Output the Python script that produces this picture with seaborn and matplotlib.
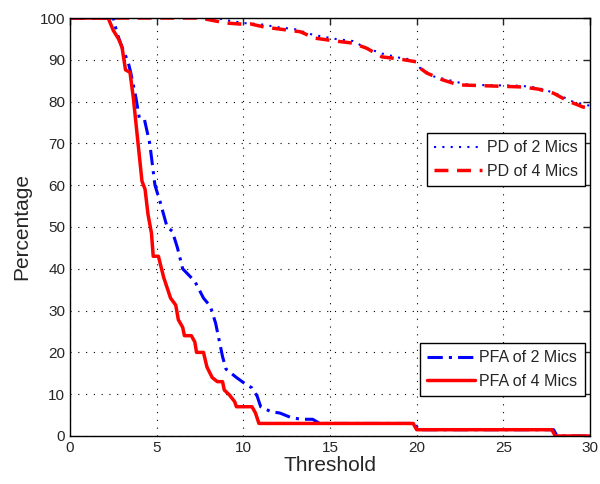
import numpy as np
import pandas as pd
import seaborn as sns
import matplotlib
matplotlib.use("Agg")
import matplotlib.pyplot as plt

# values
pd2_x = [0, 8.5, 9, 10, 11, 12, 13, 14, 15.3, 16.3, 17, 18, 19, 19.8, 20.2, 21, 22, 23, 26, 27, 28, 29, 30]
pd2_y = [100, 100, 99.5, 98.8, 98.5, 97.8, 97.3, 96, 95, 94.5, 93, 91.5, 90.5, 90, 88, 86, 85, 84, 83.8, 83.3, 82, 80, 79]

pd4_x = [0, 7.5, 9, 10, 10.4, 11.25, 12.2, 13.3, 14.1, 15.3, 16.3, 17.1, 18, 19, 20, 20.1, 20.6,
         21.5, 22.4, 26.1, 27, 27.9, 28.7, 29.6, 30]
pd4_y = [100, 100, 98.8, 98.5, 98.6, 97.8, 97.3, 96.7, 95.2, 94.5, 94, 92.8, 90.7, 90.2, 89.5, 88.3, 86.8,
         85.2, 84, 83.5, 83, 82, 80.2, 78.7, 78.5]

pfa2_x = [0, 2.5, 2.7, 3.0, 3.35, 3.5, 3.8, 4.0, 4.3, 4.6, 4.9, 5.2, 5.6, 5.9, 6.2, 6.5, 7.2, 7.7, 8.1,
          8.4, 8.8, 9.0, 9.6, 10.1, 10.5, 10.8, 11.0, 11.6, 12.1, 12.7, 13.3, 14.0, 14.4,
          19.9, 20.1, 27.9, 28.1, 30]
pfa2_y = [100, 100, 96.5, 93, 89.5, 87, 81, 76, 75.6, 70, 60, 56, 50, 49, 45, 40, 37, 33, 31,
          27, 19, 16, 14, 12.5, 11.5, 9.5, 7, 5.8, 5.5, 4.5, 4, 4, 3,
          3, 1.5, 1.5, 0, 0]

pfa4_x = [0, 2.2, 2.5, 2.8, 3.0, 3.2, 3.46, 3.65, 3.9, 4.15, 4.33, 4.5, 4.7, 4.8, 5.1, 5.4, 5.8, 6.1,
          6.25, 6.5, 6.6, 7.0, 7.2, 7.3, 7.7, 7.9, 8.2, 8.5, 8.8, 8.9, 9.2, 9.5, 9.6, 10.5, 10.7,
          10.9, 19.8, 20.0, 27.8, 28.0, 30]
pfa4_y = [100, 100, 97, 95, 93, 87.6, 87, 81, 71, 61, 59, 53, 48.5, 43, 43, 38, 33, 31.3,
          27.8, 26, 24, 24, 22.5, 20, 20, 16.5, 14, 13, 13, 11, 9.8, 8.2, 7, 7, 5.5,
          3, 3, 1.5, 1.5, 0, 0]

sns.set_style("white")
plt.rcParams['font.family'] = ['Liberation Sans', 'DejaVu Sans']

fig = plt.figure(figsize=(6, 4.84), dpi=100)
ax = fig.add_axes([0.1167, 0.0992, 0.8666, 0.8636])

# PD curves
sns.lineplot(x=pd2_x, y=pd2_y, ax=ax, sort=False, color='blue', lw=1.5,
             linestyle=(0, (1, 3)), label='PD of 2 Mics')
sns.lineplot(x=pd4_x, y=pd4_y, ax=ax, sort=False, color='red', lw=2.5,
             linestyle=(0, (4, 2.5)), label='PD of 4 Mics')
# PFA curves
sns.lineplot(x=pfa2_x, y=pfa2_y, ax=ax, sort=False, color='blue', lw=2.2,
             linestyle=(0, (5, 2, 1, 2)), label='PFA of 2 Mics')
sns.lineplot(x=pfa4_x, y=pfa4_y, ax=ax, sort=False, color='red', lw=2.5,
             linestyle='-', label='PFA of 4 Mics')

ax.set_xlim(0, 30)
ax.set_ylim(0, 100)
ax.set_xticks(range(0, 31, 5))
ax.set_yticks(range(0, 101, 10))
ax.grid(True, color='black', linestyle=(0, (1, 6)), linewidth=0.8)
ax.tick_params(direction='in', length=5, top=True, right=True, labelsize=11, width=1)
for s in ax.spines.values():
    s.set_color('black')
    s.set_linewidth(1.0)

ax.set_xlabel('Threshold', fontsize=15, labelpad=1)
ax.set_ylabel('Percentage', fontsize=15, labelpad=6)

lines = ax.get_lines()
ax.get_legend().remove()
leg_kw = dict(fontsize=11.5, frameon=True, fancybox=False, edgecolor='black',
              framealpha=1, handlelength=3.0, handletextpad=0.3, borderpad=0.45,
              labelspacing=0.55, borderaxespad=0)
leg1 = ax.legend(lines[:2], ['PD of 2 Mics', 'PD of 4 Mics'], loc='upper right',
                 bbox_to_anchor=(0.990, 0.725), **leg_kw)
leg1.get_frame().set_linewidth(1.0)
ax.add_artist(leg1)
leg2 = ax.legend(lines[2:4], ['PFA of 2 Mics', 'PFA of 4 Mics'], loc='upper right',
                 bbox_to_anchor=(0.990, 0.2225), **leg_kw)
leg2.get_frame().set_linewidth(1.0)

fig.savefig('out.png', dpi=100)
